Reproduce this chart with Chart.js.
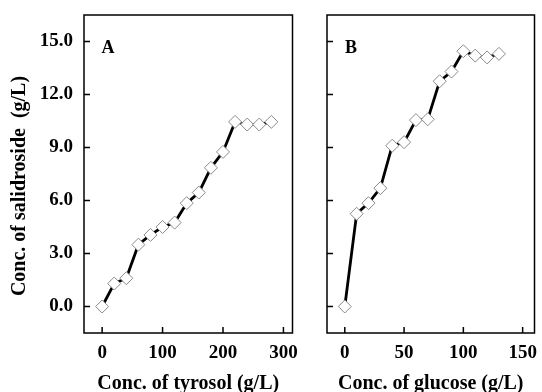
<!DOCTYPE html>
<html>

<head>
    <title>Salidroside production</title>
    <script src="https://cdn.jsdelivr.net/npm/chart.js"></script>
    <style type="text/css">
        body {
            margin: 0;
            background: #fff;
        }

        canvas {
            position: absolute;
            top: 0;
        }

        #chartA {
            left: 0;
        }

        #chartB {
            left: 300px;
        }
    </style>
</head>

<body>
    <canvas id="chartA" width="300" height="392"></canvas>
    <canvas id="chartB" width="242" height="392"></canvas>

    <script>
        // panel A: tyrosol
        const tyrosolX = [0, 20, 40, 60, 80, 100, 120, 140, 160, 180, 200, 220, 240, 260, 280];
        const tyrosolY = [0, 1.3, 1.6, 3.5, 4.05, 4.5, 4.75, 5.85, 6.45, 7.85, 8.75, 10.45, 10.3, 10.3, 10.45];
        // panel B: glucose
        const glucoseX = [0, 10, 20, 30, 40, 50, 60, 70, 80, 90, 100, 110, 120, 130];
        const glucoseY = [0, 5.25, 5.85, 6.7, 9.1, 9.3, 10.55, 10.6, 12.75, 13.3, 14.45, 14.2, 14.1, 14.3];

        const yTicks = [0, 3, 6, 9, 12, 15];
        const xTicksA = [0, 100, 200, 300];
        const xTicksB = [0, 50, 100, 150];
        const yTitle = 'Conc. of salidroside  (g/L)';

        const serif = "'Liberation Serif', 'Times New Roman', serif";

        // frame + inward tick marks + panel letter (+ y title on the left panel)
        const framePlugin = {
            id: 'frame',
            afterDraw(chart, args, opts) {
                const c = chart.ctx;
                const a = chart.chartArea;
                c.save();
                c.strokeStyle = '#000';
                c.lineWidth = 1.5;
                c.strokeRect(a.left, a.top, a.right - a.left, a.bottom - a.top);
                const xs = chart.scales.x, ys = chart.scales.y;
                c.beginPath();
                xs.ticks.forEach(t => {
                    const px = xs.getPixelForValue(t.value);
                    c.moveTo(px, a.bottom);
                    c.lineTo(px, a.bottom - 6);
                });
                ys.ticks.forEach(t => {
                    const py = ys.getPixelForValue(t.value);
                    c.moveTo(a.left, py);
                    c.lineTo(a.left + 6, py);
                });
                c.stroke();
                c.fillStyle = '#000';
                c.font = 'bold 18px ' + serif;
                c.textAlign = 'center';
                c.textBaseline = 'middle';
                c.fillText(opts.letter, a.left + 24, a.top + 33);
                if (opts.yTitle) {
                    c.font = 'bold 20px ' + serif;
                    c.translate(20, 186);
                    c.rotate(-Math.PI / 2);
                    c.fillText(opts.yTitle, 0, 0);
                }
                c.restore();
            }
        };

        function noPad(s) {
            s.paddingTop = 0;
            s.paddingBottom = 0;
            s.paddingLeft = 0;
            s.paddingRight = 0;
        }

        function makeChart(id, xs, ys, xTicks, xMin, xMax, xTitle, letter, yWidth, showY) {
            const ctx = document.getElementById(id).getContext('2d');
            return new Chart(ctx, {
                type: 'line',
                data: {
                    datasets: [{
                        data: xs.map((x, i) => ({ x: x, y: ys[i] })),
                        borderColor: '#000',
                        borderWidth: 2.8,
                        pointStyle: 'rectRot',
                        pointRadius: 6.5,
                        pointBackgroundColor: '#fff',
                        pointBorderColor: '#8a8a8a',
                        pointBorderWidth: 1,
                        tension: 0
                    }]
                },
                options: {
                    responsive: false,
                    animation: false,
                    layout: { padding: { top: 15, right: 3, left: 0, bottom: 0 } },
                    plugins: {
                        legend: { display: false },
                        tooltip: { enabled: false },
                        frame: { letter: letter, yTitle: showY ? yTitle : '' }
                    },
                    scales: {
                        x: {
                            type: 'linear',
                            min: xMin,
                            max: xMax,
                            grid: { display: false, drawTicks: false },
                            border: { display: false },
                            afterBuildTicks: s => { s.ticks = xTicks.map(v => ({ value: v })); },
                            afterFit: s => { s.height = 59; noPad(s); },
                            ticks: {
                                padding: 9,
                                color: '#000',
                                font: { family: serif, size: 19, weight: 'bold' }
                            },
                            title: {
                                display: true,
                                text: xTitle,
                                color: '#000',
                                padding: { top: 0, bottom: -4 },
                                font: { family: serif, size: 20, weight: 'bold' }
                            }
                        },
                        y: {
                            min: -1.5,
                            max: 16.5,
                            grid: { display: false, drawTicks: false },
                            border: { display: false },
                            afterBuildTicks: s => { s.ticks = yTicks.map(v => ({ value: v })); },
                            afterFit: s => { s.width = yWidth; noPad(s); },
                            ticks: {
                                display: showY,
                                padding: 11,
                                color: '#000',
                                font: { family: serif, size: 19, weight: 'bold' },
                                callback: v => v.toFixed(1)
                            }
                        }
                    }
                },
                plugins: [framePlugin]
            });
        }

        makeChart('chartA', tyrosolX, tyrosolY, xTicksA, -30, 315, 'Conc. of tyrosol (g/L)', 'A', 84, true);
        makeChart('chartB', glucoseX, glucoseY, xTicksB, -15, 160, 'Conc. of glucose (g/L)', 'B', 27, false);
    </script>
</body>

</html>
